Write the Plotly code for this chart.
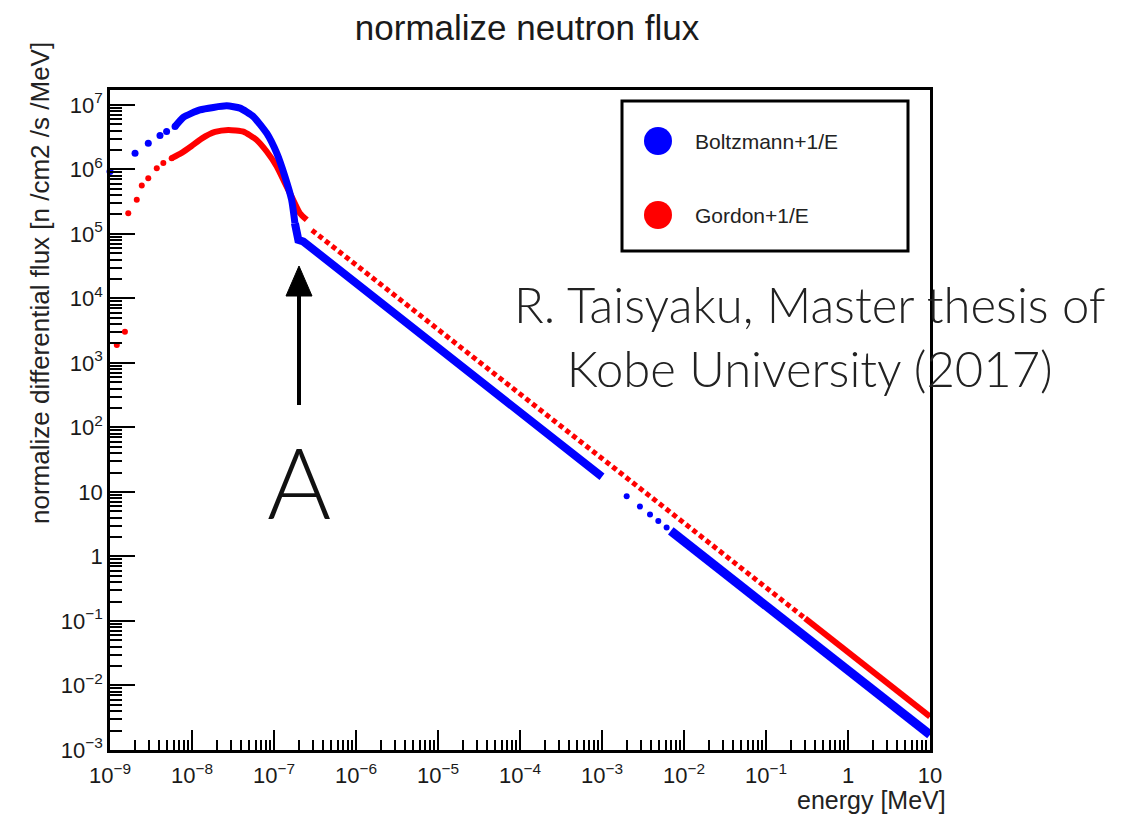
import plotly.graph_objects as go

# Plot area in page pixels
W, H = 1127, 816
L, R, T, B = 110, 930, 90, 750


def px(x):
    return (x - L) / (R - L)


def py(y):
    return (B - y) / (B - T)


series_names = ["Boltzmann+1/E", "Gordon+1/E"]
series_colors = ["#0000ff", "#ff0000"]

# ---- Boltzmann+1/E (energy in MeV, flux in n/cm2/s/MeV) ----
boltz_sparse_E = [1.0e-9, 2.02e-9, 2.93e-9, 4.07e-9, 4.9e-9, 6.21e-9]
boltz_sparse_F = [9.3e5, 1.78e6, 2.55e6, 3.34e6, 3.85e6, 4.61e6]

boltz_thermal_E = [6.21e-9, 7.83e-9, 1.25e-8, 2.65e-8, 3.85e-8, 5.6e-8, 8.15e-8,
                   1.08e-7, 1.36e-7, 1.64e-7, 1.80e-7]
boltz_thermal_F = [4.61e6, 6.4e6, 8.36e6, 9.64e6, 8.89e6, 6.59e6, 3.63e6,
                   1.78e6, 7.73e5, 3.37e5, 1.46e5]

boltz_epi_E = [1.80e-7, 1.98e-7, 2.28e-7, 1.0e-3]
boltz_epi_F = [1.46e5, 8.07e4, 7.6e4, 17.2]

boltz_gap_E = [2.0e-3, 2.9e-3, 3.85e-3, 4.86e-3, 6.14e-3]
boltz_gap_F = [8.6, 5.93, 4.47, 3.54, 2.8]

boltz_fast_E = [6.9e-3, 10.0]
boltz_fast_F = [2.49, 1.72e-3]

# ---- Gordon+1/E ----
gordon_sparse_E = [1.21e-9, 1.52e-9, 1.67e-9, 2.12e-9, 2.44e-9, 2.93e-9,
                   3.72e-9, 4.47e-9, 5.65e-9]
gordon_sparse_F = [1.9e3, 3.03e3, 2.09e5, 3.37e5, 5.61e5, 7.31e5,
                   1.04e6, 1.26e6, 1.49e6]

gordon_thermal_E = [5.65e-9, 7.48e-9, 9.9e-9, 1.31e-8, 1.91e-8, 2.77e-8, 4.23e-8,
                    6.15e-8, 8.15e-8, 1.08e-7, 1.36e-7, 1.64e-7, 2.07e-7, 2.51e-7]
gordon_thermal_F = [1.49e6, 1.8e6, 2.3e6, 3.0e6, 3.8e6, 4.09e6, 3.85e6,
                    2.86e6, 1.89e6, 1.11e6, 6.11e5, 3.78e5, 2.09e5, 1.65e5]

gordon_epi_E = [2.9e-7, 0.3]
gordon_epi_F = [1.14e5, 0.11]

gordon_fast_E = [0.3, 10.0]
gordon_fast_F = [0.11, 3.3e-3]

# ---- axis ticks ----
x_tickvals = [1e-9, 1e-8, 1e-7, 1e-6, 1e-5, 1e-4, 1e-3, 1e-2, 1e-1, 1, 10]
x_ticktext = ["10<sup>−9</sup>", "10<sup>−8</sup>", "10<sup>−7</sup>", "10<sup>−6</sup>",
              "10<sup>−5</sup>", "10<sup>−4</sup>", "10<sup>−3</sup>", "10<sup>−2</sup>",
              "10<sup>−1</sup>", "1", "10"]
y_tickvals = [1e-3, 1e-2, 1e-1, 1, 10, 1e2, 1e3, 1e4, 1e5, 1e6, 1e7]
y_ticktext = ["10<sup>−3</sup>", "10<sup>−2</sup>", "10<sup>−1</sup>", "1", "10",
              "10<sup>2</sup>", "10<sup>3</sup>", "10<sup>4</sup>", "10<sup>5</sup>",
              "10<sup>6</sup>", "10<sup>7</sup>"]

BLUE, RED = series_colors
fig = go.Figure()


def add_markers(E, F, color, size):
    fig.add_trace(go.Scatter(x=E, y=F, mode="markers", cliponaxis=False,
                             marker=dict(color=color, size=size, symbol="circle",
                                         line=dict(width=0)),
                             showlegend=False, hoverinfo="skip"))


def add_band(E, F, color, width, dash="solid", shape="linear"):
    fig.add_trace(go.Scatter(x=E, y=F, mode="lines",
                             line=dict(color=color, width=width, dash=dash, shape=shape,
                                       smoothing=0.5),
                             showlegend=False, hoverinfo="skip"))


# Gordon+1/E underneath
add_markers(gordon_sparse_E, gordon_sparse_F, RED, 6)
add_band(gordon_thermal_E, gordon_thermal_F, RED, 6, shape="spline")
add_band(gordon_epi_E, gordon_epi_F, RED, 5, dash="5px,3.5px")
add_band(gordon_fast_E, gordon_fast_F, RED, 6)

# Boltzmann+1/E
add_markers(boltz_sparse_E, boltz_sparse_F, BLUE, 7)
add_band(boltz_thermal_E, boltz_thermal_F, BLUE, 7, shape="spline")
add_band(boltz_epi_E, boltz_epi_F, BLUE, 8)
add_markers(boltz_gap_E, boltz_gap_F, BLUE, 6)
add_band(boltz_fast_E, boltz_fast_F, BLUE, 9)

axis_common = dict(type="log", showgrid=False, zeroline=False, showline=True,
                   linecolor="black", linewidth=2.5, mirror=True,
                   ticks="inside", tickcolor="black", tickwidth=2,
                   tickfont=dict(family="Liberation Sans, Arial, sans-serif",
                                 size=22, color="#1a1a1a"))

fig.update_xaxes(**axis_common, range=[-9, 1], tickmode="array",
                 tickvals=x_tickvals, ticktext=x_ticktext, ticklen=20,
                 ticklabelstandoff=4,
                 minor=dict(ticks="inside", ticklen=10, tickwidth=2, tickcolor="black",
                            dtick="D1", showgrid=False))
fig.update_yaxes(**axis_common, range=[-3, 7.23], tickmode="array",
                 tickvals=y_tickvals, ticktext=y_ticktext, ticklen=25,
                 minor=dict(ticks="inside", ticklen=12, tickwidth=2, tickcolor="black",
                            dtick="D1", showgrid=False))

shapes = []
annotations = []

# Legend box
LEG = dict(x0=622, x1=908, y0=101, y1=251)
shapes.append(dict(type="rect", xref="paper", yref="paper",
                   x0=px(LEG["x0"]), x1=px(LEG["x1"]), y0=py(LEG["y1"]), y1=py(LEG["y0"]),
                   line=dict(color="black", width=3), fillcolor="white", layer="above"))
for i, (name, color) in enumerate(zip(series_names, series_colors)):
    cy = 141 + i * 74
    shapes.append(dict(type="circle", xref="paper", yref="paper",
                       x0=px(658 - 14), x1=px(658 + 14), y0=py(cy + 14), y1=py(cy - 14),
                       line=dict(width=0), fillcolor=color, layer="above"))
    annotations.append(dict(text=name, xref="paper", yref="paper", x=px(693), y=py(cy),
                            xanchor="left", yanchor="middle", showarrow=False,
                            font=dict(family="Liberation Sans, Arial, sans-serif",
                                      size=21, color="#222")))

# Arrow marking the Boltzmann / 1/E junction
shapes.append(dict(type="line", xref="paper", yref="paper",
                   x0=px(299), x1=px(299), y0=py(405), y1=py(290),
                   line=dict(color="black", width=4)))
shapes.append(dict(type="path", xref="paper", yref="paper",
                   path="M {} {} L {} {} L {} {} Z".format(px(286), py(296), px(312), py(296),
                                                           px(299), py(266)),
                   fillcolor="black", line=dict(color="black", width=1)))
annotations.append(dict(text="A", xref="paper", yref="paper", x=px(299), y=py(481),
                        xanchor="center", yanchor="middle", showarrow=False,
                        font=dict(family="Lato, Liberation Sans, sans-serif", size=98,
                                  color="#111", weight=300)))

# Source note
annotations.append(dict(text="R. Taisyaku, Master thesis of<br>Kobe University (2017)",
                        xref="paper", yref="paper", x=px(810), y=py(336),
                        xanchor="center", yanchor="middle", align="center",
                        showarrow=False,
                        font=dict(family="Lato, Liberation Sans, sans-serif", size=49,
                                  color="#222", weight=300)))

# Axis titles
annotations.append(dict(text="energy [MeV]", xref="paper", yref="paper",
                        x=px(948), y=py(800), xanchor="right", yanchor="middle",
                        showarrow=False,
                        font=dict(family="Liberation Sans, Arial, sans-serif",
                                  size=25, color="#222")))
annotations.append(dict(text="normalize differential flux [n /cm2 /s /MeV]",
                        xref="paper", yref="paper", x=px(40), y=py(283),
                        xanchor="center", yanchor="middle", textangle=-90,
                        showarrow=False,
                        font=dict(family="Liberation Sans, Arial, sans-serif",
                                  size=26, color="#222")))

fig.update_layout(
    width=W, height=H, autosize=False,
    margin=dict(l=L, r=W - R, t=T, b=H - B, pad=0),
    paper_bgcolor="white", plot_bgcolor="white",
    title=dict(text="normalize neutron flux", xref="container", yref="container",
               x=527 / W, y=1 - 28 / H, xanchor="center", yanchor="middle",
               font=dict(family="Liberation Sans, Arial, sans-serif", size=35,
                         color="#1a1a1a")),
    shapes=shapes, annotations=annotations,
    showlegend=False,
)

fig.write_html("out.html")
